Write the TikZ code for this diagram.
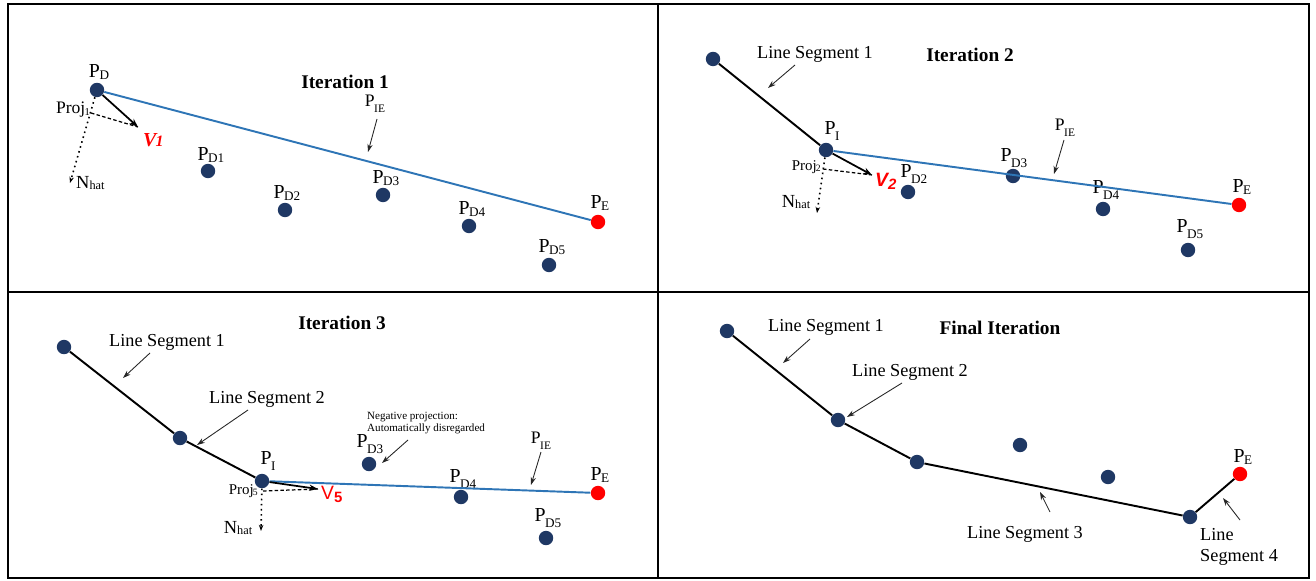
\documentclass[tikz,border=0pt]{standalone}
\usepackage{fontspec}
\setmainfont{Liberation Serif}
\setsansfont{Liberation Sans}
\usetikzlibrary{arrows.meta}
\definecolor{navy}{HTML}{1F3864}
\definecolor{lineblue}{HTML}{2E75B6}
\definecolor{ptred}{HTML}{FF0000}
\newcommand{\Pl}[1]{P\kern-0.3pt\raisebox{-0.15ex}{\fontsize{7.5}{8}\selectfont #1}}
\newcommand{\Pll}[1]{P\kern-0.3pt\raisebox{-0.75ex}{\fontsize{7.5}{8}\selectfont #1}}
\newcommand{\Pie}{{\fontsize{10}{11}\selectfont P\kern-0.3pt\raisebox{-0.8ex}{\fontsize{6.5}{7}\selectfont IE}}}
\newcommand{\Nhat}{N\raisebox{-0.1ex}{\fontsize{7}{8}\selectfont hat}}
\tikzset{
  pt/.style={circle, fill=navy, inner sep=0pt, minimum size=8.2pt},
  ept/.style={circle, fill=ptred, inner sep=0pt, minimum size=8.2pt},
  lbl/.style={font=\fontsize{11.3}{12}\selectfont, inner sep=0.5pt},
  ttl/.style={font=\bfseries\fontsize{11}{13}\selectfont, inner sep=0.5pt},
  note/.style={font=\fontsize{10.4}{12}\selectfont, inner sep=0.5pt},
  tiny/.style={font=\fontsize{6.3}{7.3}\selectfont, inner sep=0.5pt, align=left},
  projl/.style={font=\fontsize{8.5}{9}\selectfont, inner sep=0.5pt},
  seg/.style={line width=1.1pt, black},
  blueseg/.style={line width=1.1pt, lineblue},
  ptr/.style={-{Stealth[length=4.5pt,width=3pt]}, line width=0.5pt, black!85},
  vec/.style={-{Stealth[length=5pt,width=3.6pt]}, line width=1pt, black},
  projln/.style={dashed, dash pattern=on 2pt off 1.3pt, line width=0.7pt},
  nline/.style={dotted, line width=0.9pt, -{Stealth[length=3.5pt,width=2.6pt]}},
  frame/.style={line width=1.6pt, black}
}
\begin{document}
\begin{tikzpicture}[x=0.02cm,y=-0.02cm]
\useasboundingbox (0,0) rectangle (1316,581);
% frames
\draw[frame] (8,4) rectangle (1309,578);
\coordinate (vt) at (658,4); \coordinate (vb) at (658,578);
\coordinate (hl) at (8,292); \coordinate (hr) at (1309,292);
\draw[frame] (vt) -- (vb);
\draw[frame] (hl) -- (hr);

% ================= Iteration 1 =================
\node[ttl] (t1) at (345,82) {Iteration 1};
\node[pt] (a0) at (97,90) {};
\node[lbl] (a0l) at (99,72) {\Pl{D}};
\node[ept] (aE) at (598,222) {};
\node[lbl] (aEl) at (600,203) {\Pl{E}};
\node[pt] (a1) at (208,171) {};
\node[lbl] (a1l) at (211,155) {\Pl{D1}};
\node[pt] (a2) at (285,210) {};
\node[lbl] (a2l) at (287,193) {\Pl{D2}};
\node[pt] (a3) at (383,195) {};
\node[lbl] (a3l) at (386,178) {\Pl{D3}};
\node[pt] (a4) at (469,226) {};
\node[lbl] (a4l) at (472,209) {\Pl{D4}};
\node[pt] (a5) at (549,265) {};
\node[lbl] (a5l) at (552,247) {\Pl{D5}};
\draw[blueseg] (a0) -- (aE);
\node (aie) at (375,104) {\Pie};
\coordinate (aieS) at (377,119); \coordinate (aieE) at (368,152);
\draw[ptr] (aieS) -- (aieE);
\coordinate (a0v) at (138,127);
\coordinate (a0p) at (91,113);
\coordinate (a0n) at (70,183);
\draw[vec] (a0) -- (a0v);
\draw[projln] (a0p) -- (a0v);
\draw[nline] (a0) -- (a0n);
\node[lbl, text=ptred, anchor=west] (a0vl) at (142,140) {\bfseries\itshape V\kern-0.5pt{\fontsize{9}{9}\selectfont 1}};
\node[font=\fontsize{10}{11}\selectfont, inner sep=0.5pt, anchor=east] (a0pl) at (91,110) {Proj\kern-0.5pt\raisebox{-0.2ex}{\fontsize{6}{6}\selectfont 1}};
\node[font=\fontsize{10.5}{11}\selectfont, inner sep=0.5pt, anchor=west] (a0nl) at (75,183) {\Nhat};

% ================= Iteration 2 =================
\node[ttl] (t2) at (970,55) {Iteration 2};
\node[pt] (b0) at (713,59) {};
\node[pt] (b1) at (826,150) {};
\node[lbl] (b1l) at (832,131) {\Pll{I}};
\node[ept] (bE) at (1239,205) {};
\node[lbl] (bEl) at (1242,187) {\Pl{E}};
\node[pt] (b2) at (908,192) {};
\node[lbl] (b2l) at (914,174) {\Pll{D2}};
\node[pt] (b3) at (1013,176) {};
\node[lbl] (b3l) at (1014,158) {\Pll{D3}};
\node[pt] (b4) at (1103,209) {};
\node[lbl] (b4l) at (1106,190) {\Pll{D4}};
\node[pt] (b5) at (1188,250) {};
\node[lbl] (b5l) at (1190,229) {\Pll{D5}};
\draw[seg] (b0) -- (b1);
\draw[blueseg] (b1) -- (bE);
\node[note] (bls1) at (815,54) {Line Segment 1};
\coordinate (bls1s) at (795,65); \coordinate (bls1e) at (768,88);
\draw[ptr] (bls1s) -- (bls1e);
\node (bie) at (1065,128) {\Pie};
\coordinate (bies) at (1064,140); \coordinate (biee) at (1054,174);
\draw[ptr] (bies) -- (biee);
\coordinate (b1v) at (872,175);
\coordinate (b1p) at (823,169);
\coordinate (b1n) at (817,213);
\draw[vec] (b1) -- (b1v);
\draw[projln] (b1p) -- (b1v);
\draw[nline] (b1) -- (b1n);
\node[text=ptred, font=\sffamily\bfseries\itshape\fontsize{11}{12}\selectfont, anchor=west, inner sep=0.5pt] (b1vl) at (874,181) {V\raisebox{-0.3ex}{\fontsize{8.5}{9}\selectfont 2}};
\node[projl, anchor=east] (b1pl) at (822,167) {Proj\kern-0.5pt\raisebox{-0.2ex}{\fontsize{5.5}{6}\selectfont 2}};
\node[font=\fontsize{10.5}{11}\selectfont, inner sep=0.5pt] (b1nl) at (796,202) {\Nhat};

% ================= Iteration 3 =================
\node[ttl] (t3) at (342,323) {Iteration 3};
\node[pt] (c0) at (64,347) {};
\node[pt] (c1) at (180,438) {};
\node[pt] (c2) at (262,481) {};
\node[lbl] (c2l) at (268,461) {\Pll{I}};
\node[ept] (cE) at (598,493) {};
\node[lbl] (cEl) at (600,475) {\Pl{E}};
\node[pt] (c3) at (369,464) {};
\node[lbl] (c3l) at (370,444) {\Pll{D3}};
\node[pt] (c4) at (461,497) {};
\node[lbl] (c4l) at (463,479) {\Pll{D4}};
\node[pt] (c5) at (546,538) {};
\node[lbl] (c5l) at (548,518) {\Pll{D5}};
\draw[seg] (c0) -- (c1) -- (c2);
\draw[blueseg] (c2) -- (cE);
\node[note] (cls1) at (167,342) {Line Segment 1};
\coordinate (cls1s) at (150,353); \coordinate (cls1e) at (123,378);
\draw[ptr] (cls1s) -- (cls1e);
\node[note] (cls2) at (267,399) {Line Segment 2};
\coordinate (cls2s) at (248,410); \coordinate (cls2e) at (197,445);
\draw[ptr] (cls2s) -- (cls2e);
\node[tiny, anchor=west] (cneg) at (366,423) {Negative projection:\\Automatically disregarded};
\coordinate (cnegs) at (408,440); \coordinate (cnege) at (382,463);
\draw[ptr] (cnegs) -- (cnege);
\node (cie) at (541,441) {\Pie};
\coordinate (cies) at (541,452); \coordinate (ciee) at (531,485);
\draw[ptr] (cies) -- (ciee);
\coordinate (c2v) at (318,489);
\coordinate (c2p) at (263,491);
\coordinate (c2n) at (261,531);
\draw[vec] (c2) -- (c2v);
\draw[projln] (c2p) -- (c2v);
\draw[nline] (c2) -- (c2n);
\node[text=ptred, font=\sffamily\fontsize{11}{12}\selectfont, anchor=west, inner sep=0.5pt] (c2vl) at (320,494) {V\raisebox{-0.3ex}{\fontsize{8.5}{9}\selectfont\bfseries 5}};
\node[projl, anchor=east] (c2pl) at (259,491) {Proj\kern-0.5pt\raisebox{-0.2ex}{\fontsize{5.5}{6}\selectfont 5}};
\node[font=\fontsize{10.5}{11}\selectfont, inner sep=0.5pt] (c2nl) at (238,528) {\Nhat};

% ================= Final Iteration =================
\node[ttl] (t4) at (1000,328) {Final Iteration};
\node[pt] (d0) at (727,331) {};
\node[pt] (d1) at (838,420) {};
\node[pt] (d2) at (917,462) {};
\node[pt] (d3) at (1020,445) {};
\node[pt] (d4) at (1108,477) {};
\node[pt] (d5) at (1190,517) {};
\node[ept] (dE) at (1240,474) {};
\node[lbl] (dEl) at (1243,457) {\Pl{E}};
\draw[seg] (d0) -- (d1) -- (d2) -- (d5) -- (dE);
\node[note] (dls1) at (826,327) {Line Segment 1};
\coordinate (dls1s) at (810,339); \coordinate (dls1e) at (783,363);
\draw[ptr] (dls1s) -- (dls1e);
\node[note] (dls2) at (910,372) {Line Segment 2};
\coordinate (dls2s) at (902,383); \coordinate (dls2e) at (847,417);
\draw[ptr] (dls2s) -- (dls2e);
\node[note] (dls3) at (1025,534) {Line Segment 3};
\coordinate (dls3s) at (1050,512); \coordinate (dls3e) at (1040,492);
\draw[ptr] (dls3s) -- (dls3e);
\node[note, anchor=west, align=left] (dls4) at (1199,547) {Line\\Segment 4};
\coordinate (dls4s) at (1240,520); \coordinate (dls4e) at (1223,498);
\draw[ptr] (dls4s) -- (dls4e);
\end{tikzpicture}
\end{document}
